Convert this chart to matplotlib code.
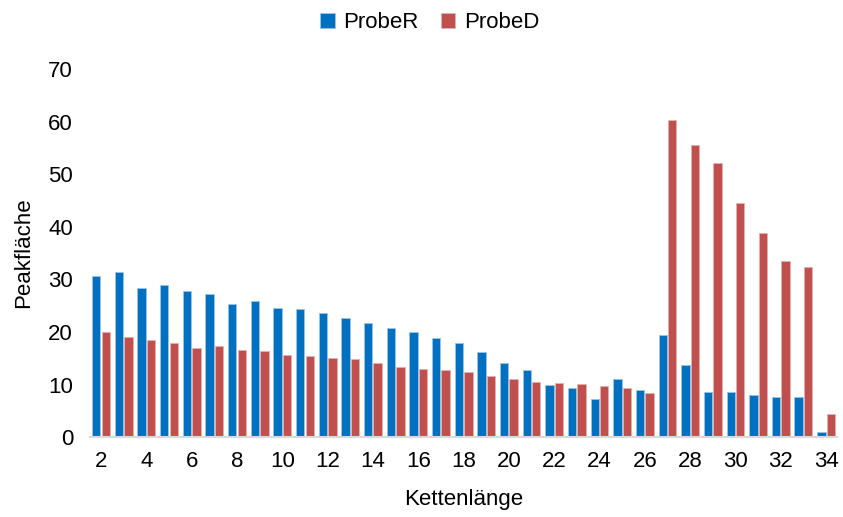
import matplotlib
matplotlib.use("Agg")
import matplotlib.pyplot as plt
import numpy as np

plt.rcParams['font.family'] = ['Liberation Sans', 'DejaVu Sans']

categories = list(range(2, 35))
probe_r = [30.6, 31.4, 28.4, 29.0, 27.8, 27.3, 25.4, 25.9, 24.5, 24.3, 23.6, 22.6, 21.7,
           20.7, 20.1, 18.8, 17.9, 16.2, 14.1, 12.7, 9.9, 9.4, 7.2, 11.1, 8.9,
           19.5, 13.8, 8.6, 8.7, 8.1, 7.6, 7.6, 1.0]
probe_d = [20.0, 19.1, 18.5, 17.9, 16.9, 17.4, 16.6, 16.4, 15.7, 15.4, 15.0, 14.9, 14.1,
           13.4, 13.0, 12.7, 12.4, 11.7, 11.0, 10.5, 10.3, 10.1, 9.8, 9.3, 8.4,
           60.4, 55.5, 52.1, 44.5, 38.9, 33.5, 32.3, 4.4]
series_names = ["ProbeR", "ProbeD"]
colors = ["#0070C0", "#C0504D"]
yticks = [0, 10, 20, 30, 40, 50, 60, 70]

fig = plt.figure(figsize=(8.43, 5.17), dpi=100)
ax = fig.add_axes([0.1064, 0.1542, 0.887, 0.7123])

x = np.arange(len(categories))
w = 0.37
ax.bar(x - 0.21, probe_r, width=w, color=colors[0], edgecolor="#9DC3E6", linewidth=0.6, label=series_names[0])
ax.bar(x + 0.21, probe_d, width=w, color=colors[1], edgecolor="#E6B0AE", linewidth=0.6, label=series_names[1])

ax.set_xlim(-0.5, len(categories) - 0.5)
ax.set_ylim(0, 70)
ax.set_yticks(yticks)
ax.set_yticklabels([str(v) for v in yticks])
ax.set_xticks(x[::2])
ax.set_xticklabels([str(c) for c in categories[::2]])

for s in ["top", "right", "left"]:
    ax.spines[s].set_visible(False)
ax.spines["bottom"].set_color("#D9D9D9")
ax.spines["bottom"].set_linewidth(1.5)
ax.tick_params(axis="both", length=0, labelsize=16, colors="black")
ax.tick_params(axis="x", pad=10)
ax.tick_params(axis="y", pad=12)

ax.set_xlabel("Kettenlänge", fontsize=16, labelpad=12)
ax.set_ylabel("Peakfläche", fontsize=16, labelpad=10)

fig.legend(loc="upper center", bbox_to_anchor=(0.51, 1.015), ncol=2, frameon=False,
           fontsize=16, handlelength=0.65, handleheight=0.7, handletextpad=0.4, columnspacing=1.0)

fig.savefig("out.png", dpi=100)
